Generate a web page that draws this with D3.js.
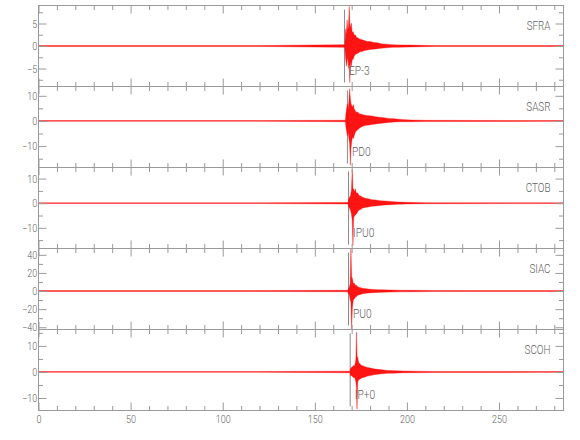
<!DOCTYPE html>
<html lang="en">
<head>
<meta charset="UTF-8">
<title>Seismograms</title>
<script src="https://cdn.jsdelivr.net/npm/d3@7"></script>
<style>
  body { margin: 0; background: #fff; }
  text { font-family: Roboto, "Liberation Sans", sans-serif; font-weight: 300; fill: #5f5f5f; }
</style>
</head>
<body>
<script>
// stations, top to bottom
const stations = ["SFRA", "SASR", "CTOB", "SIAC", "SCOH"];
const yLow  = [-9, -18.5, -18.4, -42.5, -14.8];
const yHigh = [9, 13.7, 14.5, 47, 16.3];
const yMajor = [5, 10, 10, 20, 10];
const yMinor = [2.5, 5, 5, 10, 5];

const timeRange = [0, 285];
const xMajor = [0, 50, 100, 150, 200, 250];

// picks (s) and their labels
const pickTime  = [166.1, 167.7, 168.3, 168.3, 169.2];
const pickLabel = ["EP-3", "PD0", "IPU0", "PU0", "IP+0"];

// traces: time (s), upper and lower envelope of the wiggle
const sfraTime = [0, 120, 166.3, 166.7, 167.1, 167.5, 167.9, 168.3, 168.7, 169.0, 169.4, 169.8, 170.3, 170.8, 171.4, 172.0, 172.7, 173.5, 174.5, 175.7, 177, 178.5, 180, 182, 184, 186, 189, 192, 196, 202, 215, 285];
const sfraHigh = [0.1, 0.1, 0.3, 3.8, 2.5, 5.8, 3.5, 4.5, 8.8, 5, 4.0, 5.1, 3.0, 3.2, 2.4, 2.5, 1.9, 1.8, 1.5, 1.4, 1.2, 1.0, 1.0, 0.8, 0.7, 0.5, 0.4, 0.3, 0.25, 0.2, 0.1, 0.1];
const sfraLow  = [-0.1, -0.1, -0.3, -2.7, -4.5, -3.4, -2.5, -5, -4, -8.1, -3.5, -4.5, -3.0, -3.0, -2.2, -1.9, -1.7, -1.6, -1.3, -1.2, -1.0, -0.9, -0.8, -0.7, -0.6, -0.5, -0.4, -0.3, -0.25, -0.2, -0.1, -0.1];

const sasrTime = [0, 120, 166.6, 166.9, 167.3, 167.7, 168.1, 168.5, 168.9, 169.3, 169.6, 170.0, 170.4, 170.9, 171.4, 172.0, 172.6, 173.3, 174.0, 174.8, 175.7, 176.7, 178, 179.5, 181, 183, 185, 187.5, 190, 193, 197, 202, 210, 285];
const sasrHigh = [0.15, 0.15, 0.3, 3, 5, 6.8, 5, 8, 12.8, 9, 7, 6.1, 5.5, 6.5, 4.8, 4.0, 3.5, 3.6, 2.9, 2.8, 2.6, 2.4, 2.2, 2.1, 2.0, 1.7, 1.5, 1.3, 1.0, 0.9, 0.6, 0.4, 0.25, 0.15];
const sasrLow  = [-0.15, -0.15, -0.3, -2.5, -4, -5.9, -4.5, -7, -9, -17.6, -11, -8.6, -6.5, -7, -5.9, -4.5, -3.9, -3.5, -3, -2.6, -2.2, -1.9, -1.7, -1.6, -1.4, -1.2, -1.0, -0.8, -0.6, -0.4, -0.3, -0.3, -0.25, -0.15];

const ctobTime = [0, 120, 168.0, 168.4, 168.9, 169.4, 169.9, 170.3, 170.7, 171.1, 171.5, 172.0, 172.6, 173.2, 174.0, 175.0, 176.0, 177.3, 179, 181, 183, 185.5, 188, 191, 195, 200, 210, 285];
const ctobHigh = [0.15, 0.15, 0.3, 1.6, 2.5, 3.2, 5.5, 13.8, 6.0, 5.8, 4.5, 5.8, 4.0, 4.2, 3.2, 2.8, 2.4, 2.0, 1.8, 1.4, 1.3, 1.0, 0.9, 0.7, 0.5, 0.35, 0.2, 0.15];
const ctobLow  = [-0.15, -0.15, -0.3, -1.4, -2.2, -3, -4.5, -7, -17.2, -6, -5.2, -4.8, -4.4, -3.6, -2.8, -2.5, -2.0, -1.7, -1.5, -1.2, -1.1, -0.9, -0.7, -0.6, -0.45, -0.3, -0.2, -0.15];

const siacTime = [0, 120, 167.8, 168.3, 168.8, 169.2, 169.6, 170.0, 170.4, 170.9, 171.4, 172.0, 172.7, 173.5, 174.5, 175.7, 177, 179, 181.5, 184, 187, 191, 196, 203, 215, 240, 285];
const siacHigh = [0.5, 0.5, 0.8, 2.5, 5, 8.2, 47, 16, 13.8, 8, 9, 6.3, 6, 4.5, 4, 3.2, 2.8, 2.2, 1.8, 1.5, 1.3, 1.1, 0.9, 0.8, 0.6, 0.5, 0.5];
const siacLow  = [-0.5, -0.5, -0.8, -2.5, -5, -10.3, -12, -42.5, -17.8, -10, -9, -6.7, -6, -4.5, -4, -3, -2.6, -2.2, -1.8, -1.5, -1.3, -1.1, -0.9, -0.8, -0.6, -0.5, -0.5];

const scohTime = [0, 120, 169.0, 169.5, 170.0, 170.5, 171.0, 171.5, 172.0, 172.3, 172.6, 172.9, 173.3, 173.8, 174.4, 175.2, 176.2, 177.3, 178.6, 180.2, 182, 184, 186.5, 189.5, 193, 198, 205, 215, 285];
const scohHigh = [0.15, 0.15, 0.3, 1.5, 1.8, 2.0, 2.5, 2.2, 3.5, 5, 15.3, 6, 5.6, 3.5, 3.2, 2.6, 2.3, 2.0, 1.7, 1.5, 1.2, 1.0, 0.8, 0.6, 0.5, 0.35, 0.3, 0.2, 0.15];
const scohLow  = [-0.15, -0.15, -0.3, -1.6, -1.4, -1.8, -2.2, -2, -3, -4, -6, -14.3, -4, -3, -2.8, -2.4, -2.1, -1.9, -1.6, -1.4, -1.1, -0.9, -0.7, -0.5, -0.45, -0.3, -0.3, -0.2, -0.15];

const traces = [
  d3.zip(sfraTime, sfraHigh, sfraLow),
  d3.zip(sasrTime, sasrHigh, sasrLow),
  d3.zip(ctobTime, ctobHigh, ctobLow),
  d3.zip(siacTime, siacHigh, siacLow),
  d3.zip(scohTime, scohHigh, scohLow)
];

const width = 580, height = 440;
const plotLeft = 38.5, plotRight = 563.5, plotTop = 5.5, panelH = 81;
const axisColor = "#9a9a9a";

const svg = d3.select("body").append("svg")
    .attr("width", width)
    .attr("height", height);

const x = d3.scaleLinear().domain(timeRange).range([plotLeft, plotRight]);
const xMinor = d3.range(timeRange[0], timeRange[1] + 0.01, 10);

function steps(lo, hi, step) {
  return d3.range(Math.ceil(lo / step) * step, hi + 1e-9, step);
}

function styleAxis(g) {
  g.select(".domain").remove();
  g.selectAll("line").attr("stroke", axisColor);
  g.selectAll("text")
      .attr("fill", "#5f5f5f")
      .attr("transform", "scale(0.82,1)")
      .style("font-size", "11px")
      .style("font-family", null);
}

stations.forEach((name, i) => {
  const y0 = plotTop + i * panelH, y1 = y0 + panelH;
  const y = d3.scaleLinear().domain([yLow[i], yHigh[i]]).range([y1, y0]);
  const g = svg.append("g");

  // pick marker
  g.append("line")
      .attr("x1", x(pickTime[i])).attr("x2", x(pickTime[i]))
      .attr("y1", y0 + 4).attr("y2", y1 - 4)
      .attr("stroke", "#8a8a8a");

  // trace
  g.append("path")
      .datum(traces[i])
      .attr("d", d3.area()
          .x(d => x(d[0]))
          .y0(d => y(d[2]))
          .y1(d => y(d[1])))
      .attr("fill", "#ff0000")
      .attr("fill-opacity", 0.92)
      .attr("stroke", "#ff0000")
      .attr("stroke-width", 0.35);

  g.append("text")
      .attr("transform", `translate(${x(pickTime[i]) + 4.5},${y0 + 69.5}) scale(0.82,1)`)
      .style("font-size", "12.5px")
      .text(pickLabel[i]);

  g.append("text")
      .attr("transform", `translate(${plotRight - 13},${y0 + 24.5}) scale(0.76,1)`)
      .attr("text-anchor", "end")
      .style("font-size", "13px")
      .text(name);

  // frame
  g.append("rect")
      .attr("x", plotLeft).attr("y", y0)
      .attr("width", plotRight - plotLeft).attr("height", panelH)
      .attr("fill", "none").attr("stroke", axisColor);

  // y axes, ticks pointing inward
  const major = steps(yLow[i], yHigh[i], yMajor[i]);
  const minor = steps(yLow[i], yHigh[i], yMinor[i]).filter(v => !major.includes(v));
  g.append("g").attr("transform", `translate(${plotLeft},0)`)
      .call(d3.axisLeft(y).tickValues(major).tickSizeInner(-8).tickSizeOuter(0).tickPadding(1.5))
      .call(styleAxis);
  g.append("g").attr("transform", `translate(${plotLeft},0)`)
      .call(d3.axisLeft(y).tickValues(minor).tickSizeInner(-4.5).tickSizeOuter(0).tickFormat(""))
      .call(styleAxis);
  g.append("g").attr("transform", `translate(${plotRight},0)`)
      .call(d3.axisRight(y).tickValues(major).tickSizeInner(-8).tickSizeOuter(0).tickFormat(""))
      .call(styleAxis);
  g.append("g").attr("transform", `translate(${plotRight},0)`)
      .call(d3.axisRight(y).tickValues(minor).tickSizeInner(-4.5).tickSizeOuter(0).tickFormat(""))
      .call(styleAxis);

  // x ticks on top and bottom of every panel
  const xm = xMinor.filter(v => !xMajor.includes(v));
  g.append("g").attr("transform", `translate(0,${y0})`)
      .call(d3.axisTop(x).tickValues(xMajor).tickSizeInner(-8).tickSizeOuter(0).tickFormat(""))
      .call(styleAxis);
  g.append("g").attr("transform", `translate(0,${y0})`)
      .call(d3.axisTop(x).tickValues(xm).tickSizeInner(-4.5).tickSizeOuter(0).tickFormat(""))
      .call(styleAxis);
  const bottomAxis = d3.axisBottom(x).tickValues(xMajor).tickSizeInner(-8).tickSizeOuter(0).tickPadding(5);
  if (i < stations.length - 1) bottomAxis.tickFormat("");
  g.append("g").attr("transform", `translate(0,${y1})`)
      .call(bottomAxis)
      .call(styleAxis);
  g.append("g").attr("transform", `translate(0,${y1})`)
      .call(d3.axisBottom(x).tickValues(xm).tickSizeInner(-4.5).tickSizeOuter(0).tickFormat(""))
      .call(styleAxis);
});
</script>
</body>
</html>
